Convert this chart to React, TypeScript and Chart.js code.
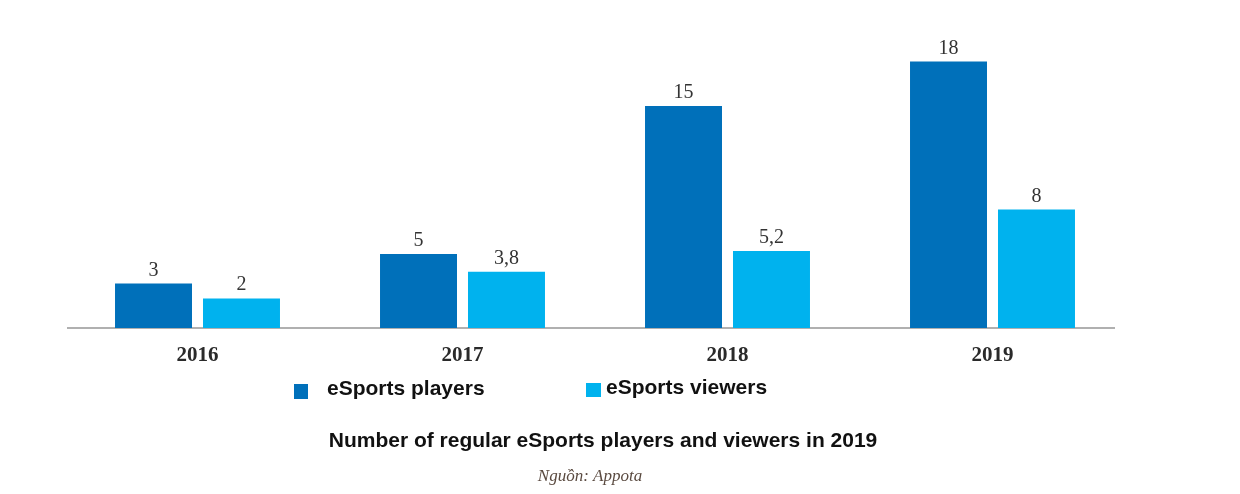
import React, { useEffect, useRef } from "react";
import { Chart, registerables } from "chart.js";

Chart.register(...registerables);

const years = ["2016", "2017", "2018", "2019"];
const players = [3, 5, 15, 18];
const viewers = [2, 3.8, 5.2, 8];
const seriesNames = ["eSports players", "eSports viewers"];
const titleText = "Number of regular eSports players and viewers in 2019";
const sourceText = "Nguồn: Appota";

const PLAYER_COLOR = "#0070BA";
const VIEWER_COLOR = "#00B2EE";

const fmt = (v: number) => String(v).replace(".", ",");

const overlayPlugin = {
  id: "overlay",
  beforeDatasetsDraw(chart: any) {
    const ctx = chart.ctx;
    const a = chart.chartArea;
    ctx.save();
    ctx.strokeStyle = "#b0b0b0";
    ctx.lineWidth = 2;
    ctx.beginPath();
    ctx.moveTo(a.left + 2, a.bottom);
    ctx.lineTo(a.right - 10, a.bottom);
    ctx.stroke();
    ctx.restore();
  },
  afterDatasetsDraw(chart: any) {
    const ctx = chart.ctx;
    ctx.save();
    ctx.fillStyle = "#333333";
    ctx.font = "20px 'Liberation Serif', serif";
    ctx.textAlign = "center";
    ctx.textBaseline = "alphabetic";
    chart.data.datasets.forEach((ds: any, di: number) => {
      const meta = chart.getDatasetMeta(di);
      meta.data.forEach((bar: any, i: number) => {
        ctx.fillText(fmt(ds.data[i]), bar.x, bar.y - 8);
      });
    });
    ctx.restore();
  },
  afterDraw(chart: any) {
    const ctx = chart.ctx;
    ctx.save();
    // legend
    ctx.fillStyle = PLAYER_COLOR;
    ctx.fillRect(294, 384, 14, 15);
    ctx.fillStyle = VIEWER_COLOR;
    ctx.fillRect(586, 383, 15, 14);
    ctx.fillStyle = "#111111";
    ctx.font = "bold 21px 'Liberation Sans', Arial, sans-serif";
    ctx.textAlign = "left";
    ctx.textBaseline = "middle";
    ctx.fillText(seriesNames[0], 327, 389);
    ctx.fillText(seriesNames[1], 606, 388);
    // title
    ctx.textAlign = "center";
    ctx.font = "bold 21px 'Liberation Sans', Arial, sans-serif";
    ctx.fillText(titleText, 603, 441);
    // source
    ctx.fillStyle = "#5a4a40";
    ctx.font = "italic 17px 'Liberation Serif', serif";
    ctx.fillText(sourceText, 590, 477);
    ctx.restore();
  },
};

export default function App() {
  const ref = useRef<HTMLCanvasElement>(null);
  useEffect(() => {
    document.body.style.margin = "0";
    const chart = new Chart(ref.current as HTMLCanvasElement, {
      type: "bar",
      data: {
        labels: years,
        datasets: [
          {
            label: seriesNames[0],
            data: players,
            backgroundColor: PLAYER_COLOR,
            categoryPercentage: 0.664,
            barPercentage: 0.875,
          },
          {
            label: seriesNames[1],
            data: viewers,
            backgroundColor: VIEWER_COLOR,
            categoryPercentage: 0.664,
            barPercentage: 0.875,
          },
        ],
      },
      options: {
        animation: false,
        responsive: false,
        layout: { padding: { top: 32, left: 65, right: 115, bottom: 0 } },
        plugins: {
          legend: { display: false },
          title: { display: false },
          tooltip: { enabled: false },
        },
        scales: {
          y: { display: false, min: 0, max: 20 },
          x: {
            grid: { display: false, drawTicks: false },
            border: { display: false },
            ticks: {
              color: "#2a2a2a",
              padding: 15,
              font: { family: "'Liberation Serif', serif", size: 21, weight: "bold" },
            },
            afterFit(scale: any) {
              scale.height = 166;
            },
          },
        },
      },
      plugins: [overlayPlugin],
    });
    return () => chart.destroy();
  }, []);
  return (
    <div style={{ width: 1240, height: 494, background: "#fff" }}>
      <canvas ref={ref} width={1240} height={494} />
    </div>
  );
}
